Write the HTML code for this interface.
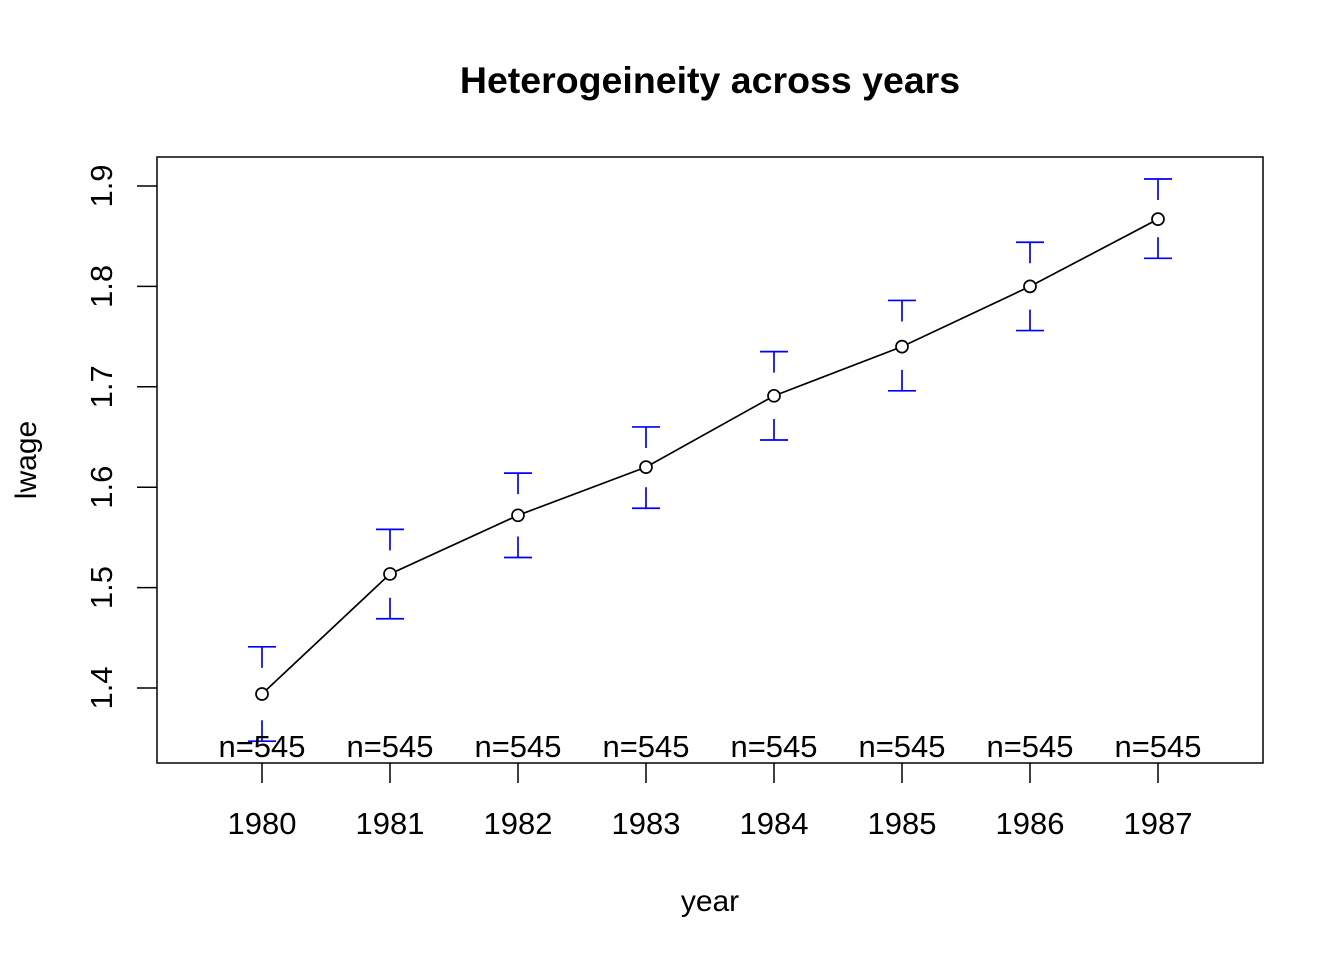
<!DOCTYPE html>
<html><head><meta charset="utf-8"><style>
body{margin:0;background:#fff}
svg{display:block;font-family:"Liberation Sans",Arial,sans-serif}
</style></head><body>
<svg id="chart" width="1344" height="960" viewBox="0 0 1344 960">
<rect width="1344" height="960" fill="#fff"/>
<text x="710" y="93" text-anchor="middle" font-size="37.5" font-weight="bold">Heterogeineity across years</text>
<rect x="157" y="157" width="1106" height="606" fill="none" stroke="#000" stroke-width="1.5"/>
<text x="710" y="911" text-anchor="middle" font-size="30">year</text>
<text transform="translate(36,460) rotate(-90)" text-anchor="middle" font-size="30">lwage</text>
<g id="g"></g>
</svg>
<script>
const years=["1980","1981","1982","1983","1984","1985","1986","1987"];
const means=[1.394,1.5136,1.572,1.620,1.691,1.740,1.800,1.867];
const upper=[1.441,1.558,1.614,1.660,1.735,1.786,1.844,1.907];
const lower=[1.347,1.469,1.530,1.579,1.647,1.696,1.756,1.828];
const counts=[545,545,545,545,545,545,545,545];
const yTicks=[1.4,1.5,1.6,1.7,1.8,1.9];
const NS="http://www.w3.org/2000/svg";
const g=document.getElementById('g');
const xs=i=>262+i*128;
const ys=v=>688-(v-1.4)*1004;
function mk(t,a,txt){const e=document.createElementNS(NS,t);for(const k in a)e.setAttribute(k,a[k]);if(txt!==undefined)e.textContent=txt;g.appendChild(e);return e;}
yTicks.forEach(v=>{
 const l=mk('line',{x1:137,x2:157,y1:ys(v),y2:ys(v),stroke:'#000','stroke-width':1.5});
 
 
 const t=mk('text',{transform:`translate(112,${ys(v)}) rotate(-90)`,'text-anchor':'middle','font-size':31},v.toFixed(1));
 
 
});
years.forEach((y,i)=>{
 const l=mk('line',{x1:xs(i),x2:xs(i),y1:763,y2:783,stroke:'#000','stroke-width':1.5});
 
 
 const t=mk('text',{x:xs(i),y:834,'text-anchor':'middle','font-size':31},y);
 
 
});
const pts=means.map((m,i)=>xs(i)+','+ys(m)).join(' ');
const pl=mk('polyline',{points:pts,fill:'none',stroke:'#000','stroke-width':1.7});


means.forEach((m,i)=>{
 const x=xs(i),yu=ys(upper[i]),yl=ys(lower[i]),ym=ys(m);
 const d=`M${x-14},${yu}H${x+14}M${x},${yu}V${Math.min(yu+21,ym-8)}M${x-14},${yl}H${x+14}M${x},${yl}V${Math.max(yl-21,ym+8)}`;
 const e=mk('path',{d:d,stroke:'#0000ff','stroke-width':1.7,fill:'none'});
 
 
 const c=mk('circle',{cx:x,cy:ym,r:6,fill:'#fff',stroke:'#000','stroke-width':1.7});
 
 
 const t=mk('text',{x:x,y:757,'text-anchor':'middle','font-size':31},'n='+counts[i]);
 
 
});
</script>
</body></html>
